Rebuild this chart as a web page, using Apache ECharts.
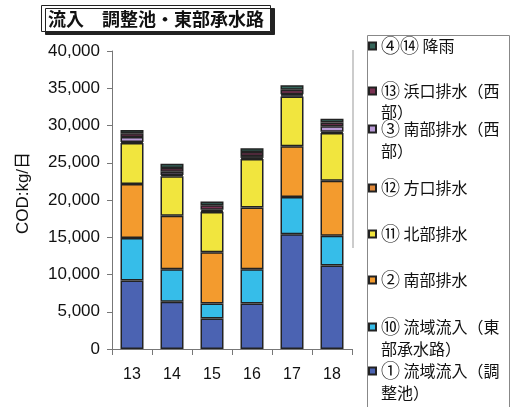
<!DOCTYPE html>
<html>
<head>
<meta charset="utf-8">
<script src="https://cdn.jsdelivr.net/npm/echarts@6/dist/echarts.min.js"></script>
<style>
  html, body { margin: 0; padding: 0; background: #fff; }
  #chart { width: 513px; height: 407px; }
</style>
</head>
<body>
<div id="chart"></div>
<script>
// Fiscal years on the category axis
const years = ['13', '14', '15', '16', '17', '18'];

// COD load per source (kg/day), stacked bottom to top
const s01 = [9200, 6350, 4100, 6100, 15400, 11200];   // ① 流域流入(調整池)
const s10 = [5700, 4350, 2000, 4600, 5000, 4000];     // ⑩ 流域流入(東部承水路)
const s02 = [7250, 7200, 6900, 8300, 6800, 7400];     // ② 南部排水
const s11 = [5500, 5300, 5400, 6500, 6700, 6400];     // ⑪ 北部排水
const s12 = [150, 150, 100, 150, 150, 150];           // ⑫ 方口排水
const s03 = [650, 450, 200, 250, 150, 750];           // ③ 南部排水(西部)
const s13 = [500, 500, 600, 550, 600, 500];           // ⑬ 浜口排水(西部)
const s0414 = [450, 550, 500, 500, 600, 500];         // ④⑭ 降雨

// Series names and the way each wraps inside the legend box
const names = [
  '① 流域流入（調整池）',
  '⑩ 流域流入（東部承水路）',
  '② 南部排水',
  '⑪ 北部排水',
  '⑫ 方口排水',
  '③ 南部排水（西部）',
  '⑬ 浜口排水（西部）',
  '④⑭ 降雨'
];
const legendLines = {
  '① 流域流入（調整池）': ['① 流域流入（調', '整池）'],
  '⑩ 流域流入（東部承水路）': ['⑩ 流域流入（東', '部承水路）'],
  '② 南部排水': ['② 南部排水'],
  '⑪ 北部排水': ['⑪ 北部排水'],
  '⑫ 方口排水': ['⑫ 方口排水'],
  '③ 南部排水（西部）': ['③ 南部排水（西', '部）'],
  '⑬ 浜口排水（西部）': ['⑬ 浜口排水（西', '部）'],
  '④⑭ 降雨': ['④⑭ 降雨']
};
const values = [s01, s10, s02, s11, s12, s03, s13, s0414];
const colors = ['#4b63b2', '#36bde9', '#f39b2e', '#f1e53e', '#e08838', '#b89ad6', '#7a3152', '#35655a'];

const yMin = 0, yMax = 40000, yStep = 5000;
const yTitle = 'COD:kg/日';
const chartTitle = '流入　調整池・東部承水路';

// Legend entries, top to bottom, with the vertical centre of their first line
const legendOrder = [7, 6, 5, 4, 3, 2, 1, 0];
const legendCentres = [46, 91, 129, 188, 234, 280, 327, 371];
const legendLineHeights = [22, 21, 22, 22, 22, 22, 22, 22];

const latin = '"Liberation Sans", Arial, "Noto Sans CJK JP", sans-serif';
const cjk = '"Noto Sans CJK JP", "Liberation Sans", sans-serif';

// circled numerals are drawn a little larger than the surrounding text
const markCircled = s => s.replace(/^([\u2460-\u2473]+)/, '{c|$1}');

const legends = legendOrder.map((idx, k) => {
  const name = names[idx];
  const lines = legendLines[name];
  const L = legendLineHeights[k];
  const multi = lines.length > 1;
  const blockH = multi ? 3 * L : L;
  return {
    data: [name],
    orient: 'vertical',
    left: 368,
    top: legendCentres[k] - blockH / 2,
    padding: 0,
    icon: 'rect',
    itemWidth: 7,
    itemHeight: 7,
    selectedMode: false,
    formatter: n => legendLines[n].map(markCircled).join('\n'),
    textStyle: {
      fontFamily: cjk,
      fontSize: 16,
      color: '#111',
      lineHeight: L,
      padding: multi ? [L, 0, 0, 0] : 0,
      rich: {
        c: { fontFamily: cjk, fontSize: 19, color: '#111', lineHeight: L }
      }
    }
  };
});

const chart = echarts.init(document.getElementById('chart'), null, { renderer: 'canvas' });
chart.setOption({
  animation: false,
  backgroundColor: '#fff',
  title: {
    text: chartTitle,
    left: 41,
    top: 5,
    padding: [5, 7, 4, 7],
    borderColor: '#222',
    borderWidth: 1,
    backgroundColor: '#fff',
    shadowColor: '#222',
    shadowBlur: 0,
    shadowOffsetX: 4,
    shadowOffsetY: 3,
    textStyle: { fontFamily: cjk, fontSize: 18, fontWeight: 'bold', color: '#111' }
  },
  legend: legends,
  grid: { left: 112, right: 161, top: 51, bottom: 58, containLabel: false },
  xAxis: {
    type: 'category',
    data: years,
    axisLine: { lineStyle: { color: '#777', width: 1 } },
    axisTick: { show: true, alignWithLabel: false, length: 6, lineStyle: { color: '#777' } },
    axisLabel: { color: '#111', fontFamily: latin, fontSize: 16, margin: 18 }
  },
  yAxis: {
    type: 'value',
    min: yMin,
    max: yMax,
    interval: yStep,
    name: yTitle,
    nameLocation: 'middle',
    nameRotate: 90,
    nameGap: 80,
    nameTextStyle: { fontFamily: latin, fontSize: 17, color: '#111', padding: [0, 0, 0, 14] },
    splitLine: { show: false },
    axisLine: { show: true, lineStyle: { color: '#777', width: 1 } },
    axisTick: { show: true, length: 5, lineStyle: { color: '#777' } },
    axisLabel: {
      color: '#111', fontFamily: latin, fontSize: 17, margin: 12,
      formatter: v => v.toLocaleString('en-US')
    }
  },
  graphic: [
    {
      type: 'rect',
      left: 365, top: 33,
      shape: { width: 142, height: 380 },
      style: { fill: 'none', stroke: '#888', lineWidth: 1 },
      z: 0
    },
    {
      type: 'line',
      shape: { x1: 353, y1: 50, x2: 353, y2: 248 },
      style: { stroke: '#999', lineWidth: 1 },
      z: 0
    }
  ],
  series: names.map((name, i) => ({
    name: name,
    type: 'bar',
    stack: 'cod',
    barWidth: 23,
    data: values[i],
    itemStyle: { color: colors[i], borderColor: '#222', borderWidth: 1.5 }
  }))
});
</script>
</body>
</html>
